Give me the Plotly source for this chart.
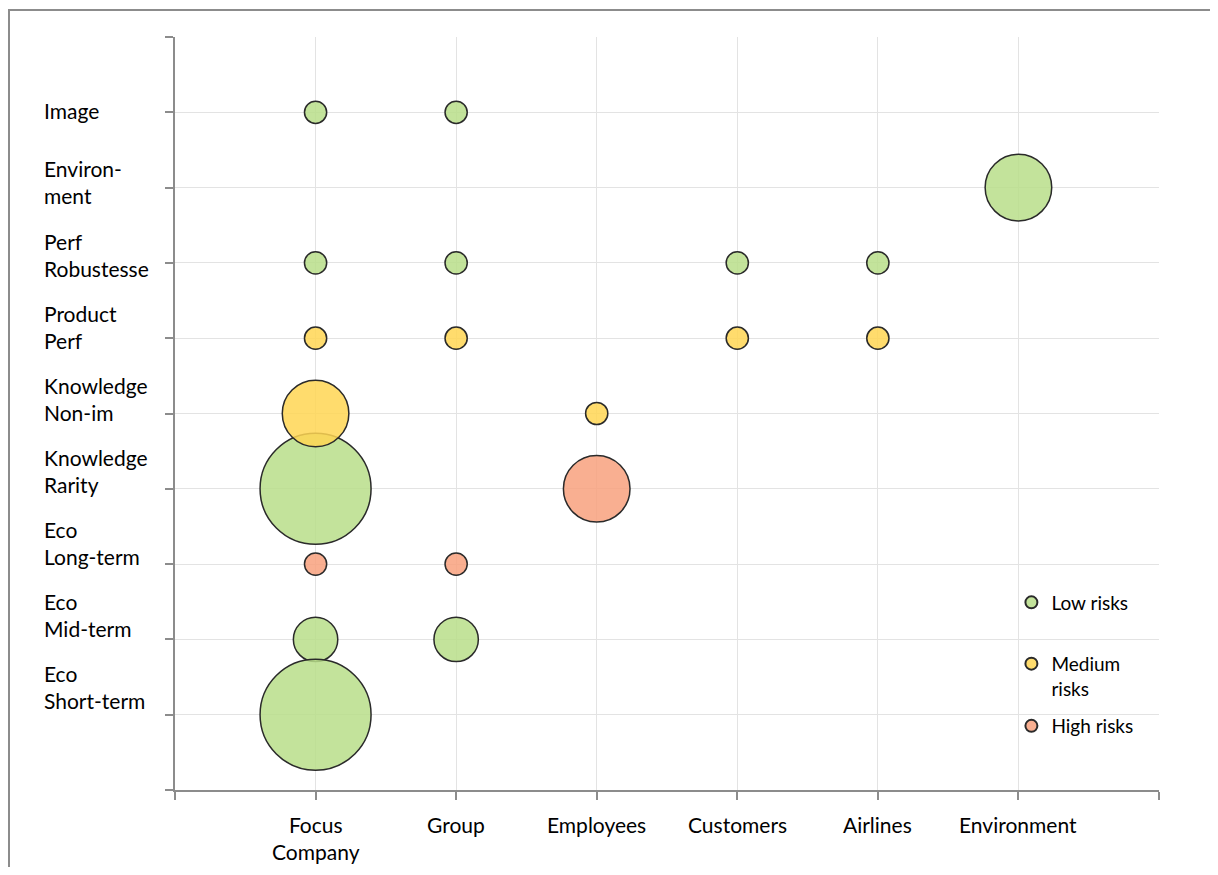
import plotly.graph_objects as go

# Categories
stakeholders = ["Focus<br>Company", "Group", "Employees", "Customers", "Airlines", "Environment"]
risk_types = ["Eco<br>Short-term", "Eco<br>Mid-term", "Eco<br>Long-term", "Knowledge<br>Rarity",
              "Knowledge<br>Non-im", "Product<br>Perf", "Perf<br>Robustesse", "Environ-<br>ment", "Image"]

# Series: (stakeholder index 1..6, risk type index 1..9, bubble weight)
low_x = [1, 2, 6, 1, 2, 4, 5, 1, 1, 2, 1]
low_y = [9, 9, 8, 7, 7, 7, 7, 4, 2, 2, 1]
low_w = [1, 1, 9, 1, 1, 1, 1, 25, 4, 4, 25]

med_x = [1, 2, 4, 5, 1, 3]
med_y = [6, 6, 6, 6, 5, 5]
med_w = [1, 1, 1, 1, 9, 1]

high_x = [3, 1, 2]
high_y = [4, 3, 3]
high_w = [9, 1, 1]

FONT = "Lato"
max_w = 25
max_d = 111
sizeref = 2 * max_w / (max_d ** 2)

fig = go.Figure()

def add(xs, ys, ws, name, color, legend):
    fig.add_trace(go.Scatter(
        x=xs, y=ys, mode="markers", name=name, legend=legend,
        marker=dict(size=ws, sizemode="area", sizeref=sizeref, color=color, opacity=1,
                    line=dict(color="#2a2a2a", width=1.5)),
        hoverinfo="skip",
    ))

add(low_x, low_y, low_w, "Low risks", "rgba(184,222,137,0.85)", "legend")
add(med_x, med_y, med_w, "Medium<br>risks", "rgba(255,214,84,0.85)", "legend2")
add(high_x, high_y, high_w, "High risks", "rgba(248,161,126,0.85)", "legend3")

axis_common = dict(showgrid=True, gridcolor="#e3e3e3", gridwidth=1, showline=True,
                   linecolor="#8c8c8c", linewidth=2, ticks="outside", ticklen=8,
                   tickcolor="#8c8c8c", tickwidth=2, showticklabels=False, zeroline=False)

fig.update_xaxes(range=[0, 7], tickvals=list(range(0, 8)), **axis_common)
fig.update_yaxes(range=[0, 10], tickvals=list(range(0, 11)), **axis_common)

annotations = []
for i, lab in enumerate(stakeholders, start=1):
    annotations.append(dict(x=i, y=0, xref="x", yref="y", text=lab, showarrow=False,
                            yanchor="top", yshift=-20, align="center",
                            font=dict(family=FONT, size=21, color="#000000")))
for i, lab in enumerate(risk_types, start=1):
    annotations.append(dict(x=-0.135, y=i, xref="paper", yref="y", text=lab, showarrow=False,
                            xanchor="left", yanchor="middle", align="left",
                            yshift=2 + (9 - i) * 3.2,
                            font=dict(family=FONT, size=21, color="#000000")))

leg_common = dict(xanchor="left", yanchor="middle", bgcolor="rgba(0,0,0,0)",
                  itemsizing="constant", valign="top",
                  font=dict(family=FONT, size=19, color="#000000"))

fig.update_layout(
    width=1210, height=859,
    margin=dict(l=167, r=59, t=29, b=77),
    paper_bgcolor="white", plot_bgcolor="white",
    font=dict(family=FONT, size=19, color="#000000"),
    annotations=annotations,
    showlegend=True,
    legend=dict(x=0.850, y=0.249, **leg_common),
    legend2=dict(x=0.850, y=0.151, **leg_common),
    legend3=dict(x=0.850, y=0.085, **leg_common),
    shapes=[dict(type="rect", xref="paper", yref="paper",
                 x0=-0.1687, x1=1.058, y0=-0.2, y1=1.0359,
                 line=dict(color="#8c8c8c", width=2), fillcolor="rgba(0,0,0,0)", layer="below")],
)

fig.write_html("out.html")
